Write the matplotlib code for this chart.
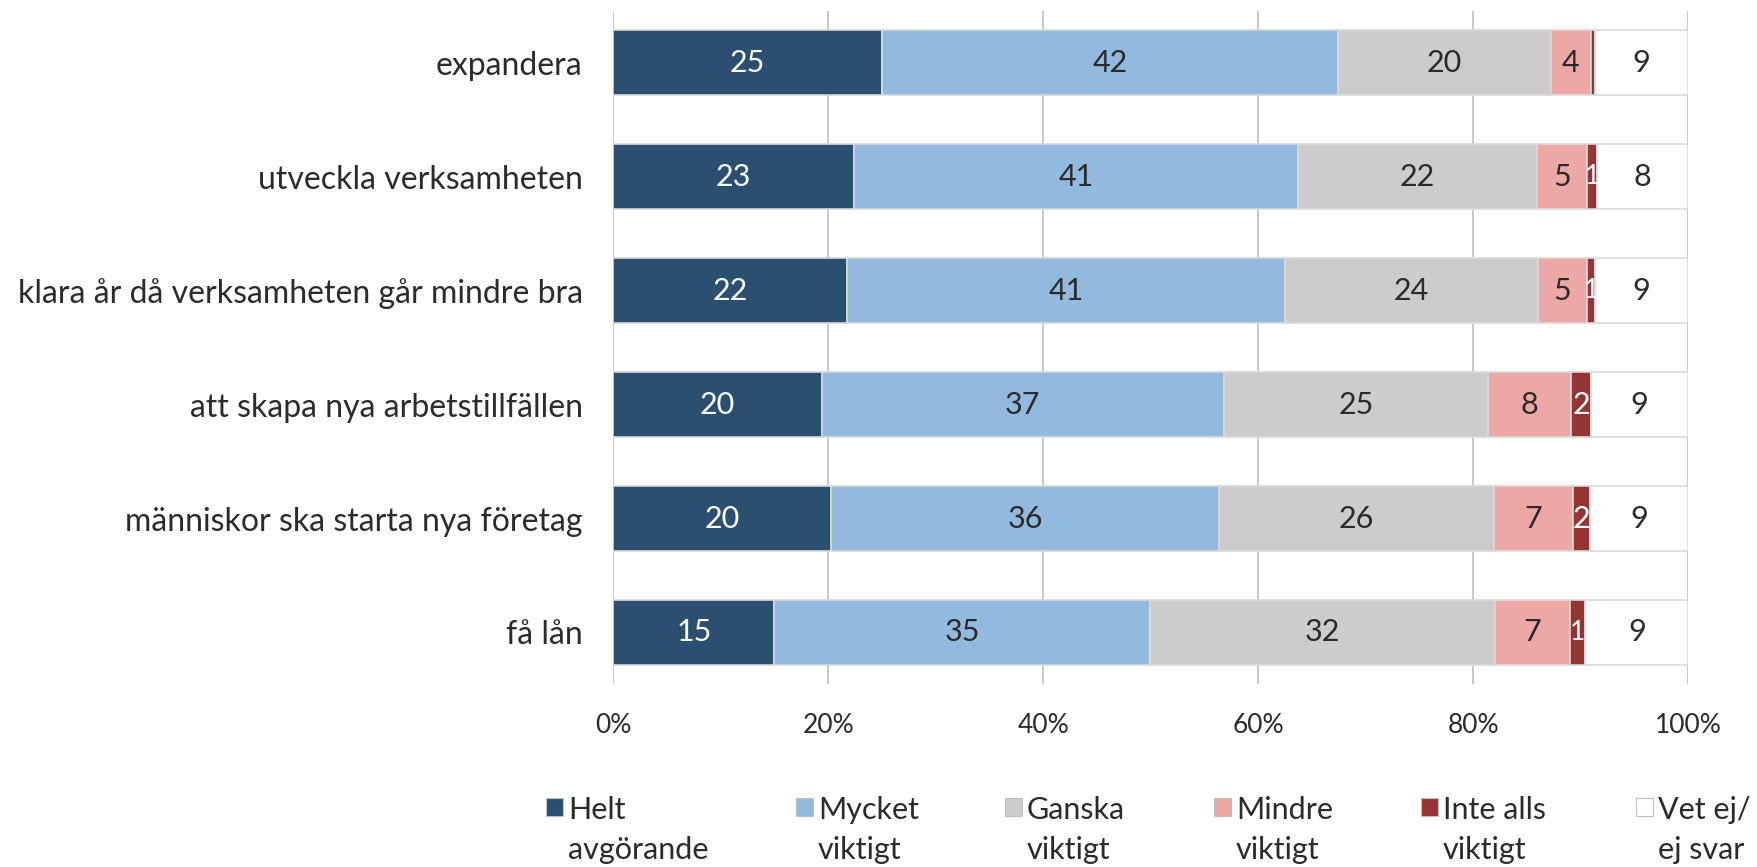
import numpy as np
import matplotlib.pyplot as plt
from matplotlib.patches import Rectangle

plt.rcParams['font.family'] = ['Lato', 'DejaVu Sans']

# categories, top to bottom
categories = ['expandera', 'utveckla verksamheten', 'klara år då verksamheten går mindre bra',
              'att skapa nya arbetstillfällen', 'människor ska starta nya företag', 'få lån']

series = ['Helt\navgörande', 'Mycket\nviktigt', 'Ganska\nviktigt', 'Mindre\nviktigt',
          'Inte alls\nviktigt', 'Vet ej/\nej svar']

# share of answers (percent)
helt = [25.0, 22.4, 21.7, 19.4, 20.3, 15.0]
mycket = [42.4, 41.3, 40.8, 37.4, 36.0, 34.9]
ganska = [19.8, 22.2, 23.5, 24.6, 25.6, 32.1]
mindre = [3.7, 4.7, 4.6, 7.7, 7.4, 7.0]
inte_alls = [0.4, 0.9, 0.7, 1.8, 1.5, 1.4]
vet_ej = [8.7, 8.5, 8.7, 9.1, 9.2, 9.6]

# printed labels in the bars
lab_helt = ['25', '23', '22', '20', '20', '15']
lab_mycket = ['42', '41', '41', '37', '36', '35']
lab_ganska = ['20', '22', '24', '25', '26', '32']
lab_mindre = ['4', '5', '5', '8', '7', '7']
lab_inte = ['', '1', '1', '2', '2', '1']
lab_vet = ['9', '8', '9', '9', '9', '9']

colors = ['#2a4f70', '#92badf', '#cccccc', '#eda7a5', '#953432', '#ffffff']
text_colors = ['white', '#2b2b2b', '#2b2b2b', '#2b2b2b', 'white', '#2b2b2b']

data = [helt, mycket, ganska, mindre, inte_alls, vet_ej]
labels = [lab_helt, lab_mycket, lab_ganska, lab_mindre, lab_inte, lab_vet]

fig = plt.figure(figsize=(17.57, 8.67), dpi=100)
ax = fig.add_axes([0.349, 0.211, 0.612, 0.776])

y = np.arange(len(categories))
left = np.zeros(len(categories))
for vals, labs, col, tcol in zip(data, labels, colors, text_colors):
    vals = np.array(vals)
    ax.barh(y, vals / 100, left=left / 100, height=0.57, color=col,
            edgecolor='#d9d9d9', linewidth=1.2, zorder=2)
    for yi, (l, v, t) in enumerate(zip(left, vals, labs)):
        if t:
            fs = 19 if t == '1' else 22
            ax.text((l + v / 2) / 100, yi, t, ha='center', va='center',
                    fontsize=fs, color=tcol, zorder=3)
    left += vals

ax.set_xlim(0, 1)
ax.set_ylim(5.453, -0.453)
ax.set_yticks(y)
ax.set_yticklabels(categories, fontsize=23, color='#2b2b2b')
ax.set_xticks(np.linspace(0, 1, 6))
ax.set_xticklabels(['0%', '20%', '40%', '60%', '80%', '100%'], fontsize=19, color='#2b2b2b')
ax.tick_params(axis='x', length=0, pad=21)
ax.tick_params(axis='y', length=0, pad=22)
ax.xaxis.grid(True, color='#bfbfbf', linewidth=1.2, zorder=0)
for s in ax.spines.values():
    s.set_visible(False)

# legend drawn by hand so the square sits at the first text line
leg_x = [546, 796, 1005, 1214, 1421, 1636]
W, H = 1757, 867
for xp, name, col in zip(leg_x, series, colors):
    fig.patches.append(Rectangle((xp / W, 1 - 816 / H), 17 / W, 18 / H,
                                 transform=fig.transFigure, facecolor=col,
                                 edgecolor='#bfbfbf', linewidth=0.8))
    first, second = name.split('\n')
    fig.text((xp + 22) / W, 1 - 810 / H, first, fontsize=22, color='#2b2b2b',
             va='center', ha='left')
    fig.text((xp + 22) / W, 1 - 850 / H, second, fontsize=22, color='#2b2b2b',
             va='center', ha='left')

fig.savefig('out.png', dpi=100)
